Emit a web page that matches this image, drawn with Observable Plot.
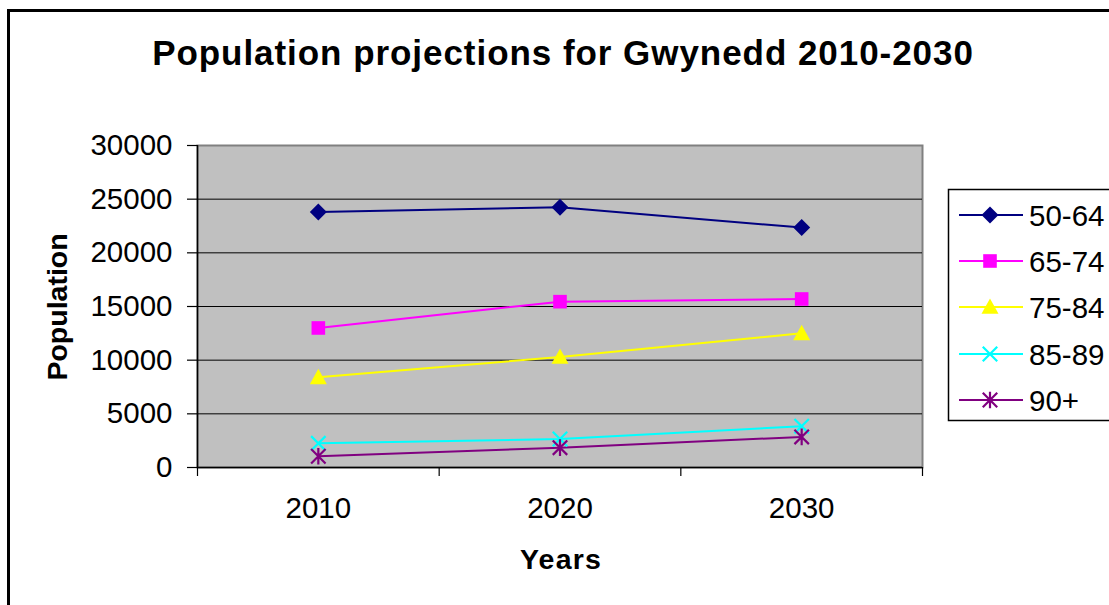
<!DOCTYPE html>
<html>
<head>
<meta charset="utf-8">
<script src="https://cdn.jsdelivr.net/npm/d3@7"></script>
<script src="https://cdn.jsdelivr.net/npm/@observablehq/plot@0.6"></script>
<style>
  html, body { margin: 0; padding: 0; background: #fff; overflow: hidden; }
  #chart { position: relative; width: 1109px; height: 605px; }
</style>
</head>
<body>
<div id="chart"></div>
<script>
// ---- data ----
const title = "Population projections for Gwynedd 2010-2030";
const xLabel = "Years";
const yLabel = "Population";
const years = [2010, 2020, 2030];
const yearTickBounds = [2005, 2015, 2025, 2035];
const yTicks = [0, 5000, 10000, 15000, 20000, 25000, 30000];
const gridTicks = [5000, 10000, 15000, 20000, 25000];
const seriesNames = ["50-64", "65-74", "75-84", "85-89", "90+"];
const seriesColors = ["#000080", "#ff00ff", "#ffff00", "#00ffff", "#800080"];
const v50_64 = [23800, 24250, 22350];
const v65_74 = [13000, 15450, 15700];
const v75_84 = [8400, 10300, 12500];
const v85_89 = [2250, 2650, 3850];
const v90plus = [1050, 1850, 2850];
const seriesValues = [v50_64, v65_74, v75_84, v85_89, v90plus];

const rows = [];
seriesNames.forEach((s, i) => years.forEach((y, j) => rows.push({series: s, year: y, value: seriesValues[i][j]})));

// ---- custom marker shapes (r = half-size) ----
const rad = size => Math.sqrt(size / Math.PI);
const symDiamond = {draw(c, size) { const r = rad(size); c.moveTo(0, -r); c.lineTo(r, 0); c.lineTo(0, r); c.lineTo(-r, 0); c.closePath(); }};
const symSquare = {draw(c, size) { const r = rad(size) * 0.8; c.rect(-r, -r, 2 * r, 2 * r); }};
const symTriangle = {draw(c, size) { const r = rad(size); c.moveTo(0, -r); c.lineTo(r, r * 0.8); c.lineTo(-r, r * 0.8); c.closePath(); }};
const symTimes = {draw(c, size) { const r = rad(size) * 0.85; c.moveTo(-r, -r); c.lineTo(r, r); c.moveTo(r, -r); c.lineTo(-r, r); }};
const symAsterisk = {draw(c, size) { const r = rad(size) * 0.85; c.moveTo(-r, -r); c.lineTo(r, r); c.moveTo(r, -r); c.lineTo(-r, r); c.moveTo(0, -r * 1.15); c.lineTo(0, r * 1.15); }};
const seriesSymbols = [symDiamond, symSquare, symTriangle, symTimes, symAsterisk];
const filledSeries = ["50-64", "65-74", "75-84"];

const FONT = "'Liberation Sans', Arial, sans-serif";

const plot = Plot.plot({
  width: 1109,
  height: 605,
  marginLeft: 197,
  marginRight: 187,
  marginTop: 145,
  marginBottom: 138,
  style: {fontFamily: FONT, background: "transparent", color: "#000", overflow: "visible"},
  x: {type: "linear", domain: [2005, 2035]},
  y: {domain: [0, 30000]},
  color: {domain: seriesNames, range: seriesColors},
  symbol: {domain: seriesNames, range: seriesSymbols},
  marks: [
    Plot.frame({fill: "#c0c0c0", stroke: "#808080", strokeWidth: 2}),
    Plot.ruleY(gridTicks, {stroke: "#000", strokeWidth: 1}),
    Plot.ruleX([2005], {stroke: "#000", strokeWidth: 1.5}),
    Plot.ruleY([0], {stroke: "#000", strokeWidth: 1.5}),
    Plot.axisY({ticks: yTicks, tickSize: 10, tickPadding: 15, fontSize: 29.5, tickFormat: d => String(d), label: null, stroke: "#000", strokeWidth: 1.2, color: "#000"}),
    Plot.axisX({ticks: yearTickBounds, tickSize: 9, tickFormat: () => "", label: null, strokeWidth: 1.2}),
    Plot.axisX({ticks: years, tickSize: 0, tickPadding: 30, fontSize: 29.5, tickFormat: d => String(d), label: null}),
    Plot.line(rows, {x: "year", y: "value", stroke: "series", z: "series", strokeWidth: 2}),
    Plot.dot(rows.filter(d => filledSeries.includes(d.series)), {x: "year", y: "value", symbol: "series", fill: "series", stroke: "none", r: 8.5}),
    Plot.dot(rows.filter(d => !filledSeries.includes(d.series)), {x: "year", y: "value", symbol: "series", stroke: "series", fill: "none", strokeWidth: 2.2, r: 8.5})
  ]
});

document.getElementById("chart").appendChild(plot);

// ---- decorations: outer border, titles, legend ----
const svg = d3.select(plot);
svg.insert("rect", ":first-child")
  .attr("x", 8.5).attr("y", 10.5).attr("width", 1300).attr("height", 800)
  .attr("fill", "#fff").attr("stroke", "#000").attr("stroke-width", 3);

svg.append("text").text(title)
  .attr("x", 563).attr("y", 65).attr("text-anchor", "middle")
  .attr("font-family", FONT).attr("font-weight", "bold").attr("font-size", 35).attr("letter-spacing", 0.95).attr("fill", "#000");

svg.append("text").text(xLabel)
  .attr("x", 561).attr("y", 569).attr("text-anchor", "middle")
  .attr("font-family", FONT).attr("font-weight", "bold").attr("font-size", 28.5).attr("letter-spacing", 1.2).attr("fill", "#000");

svg.append("text").text(yLabel)
  .attr("transform", "translate(67,307) rotate(-90)").attr("text-anchor", "middle")
  .attr("font-family", FONT).attr("font-weight", "bold").attr("font-size", 28.5).attr("fill", "#000");

const lg = svg.append("g");
lg.append("rect").attr("x", 948.5).attr("y", 189.5).attr("width", 300).attr("height", 231)
  .attr("fill", "#fff").attr("stroke", "#000").attr("stroke-width", 1.5);
const rowY = [215, 261, 307, 354, 400];
seriesNames.forEach((s, i) => {
  const y = rowY[i];
  lg.append("line").attr("x1", 959).attr("x2", 1023).attr("y1", y).attr("y2", y)
    .attr("stroke", seriesColors[i]).attr("stroke-width", 2);
  const filled = filledSeries.includes(s);
  lg.append("path")
    .attr("d", d3.symbol().type(seriesSymbols[i]).size(Math.PI * 8.5 * 8.5)())
    .attr("transform", `translate(990,${y})`)
    .attr("fill", filled ? seriesColors[i] : "none")
    .attr("stroke", filled ? "none" : seriesColors[i])
    .attr("stroke-width", 2.2);
  lg.append("text").text(s).attr("x", 1029).attr("y", y).attr("dy", "0.36em")
    .attr("text-anchor", "start")
    .attr("font-family", FONT).attr("font-size", 29.5).attr("fill", "#000");
});
</script>
</body>
</html>
